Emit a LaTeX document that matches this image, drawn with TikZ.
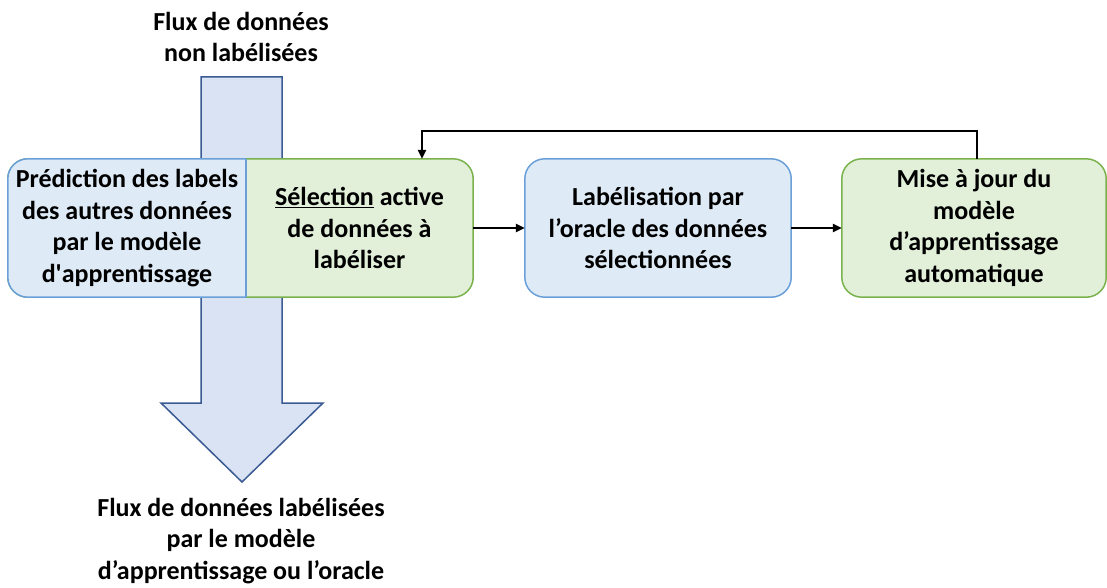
\documentclass[tikz,border=0pt]{standalone}
\usepackage{fontspec}
\setmainfont{Carlito}
\usetikzlibrary{arrows.meta,calc}
\definecolor{bfill}{HTML}{DEEBF7}
\definecolor{bdraw}{HTML}{6A9FD8}
\definecolor{gfill}{HTML}{E2F0D9}
\definecolor{gdraw}{HTML}{7AB24E}
\definecolor{afill}{HTML}{DAE3F3}
\definecolor{adraw}{HTML}{3A5A94}
\pgfdeclarelayer{bg}
\pgfsetlayers{bg,main}
\tikzset{
  txt/.style={font=\fontsize{26}{31.5}\selectfont\bfseries, align=center, inner sep=0pt},
  boxnode/.style={txt, minimum height=138pt},
  conn/.style={line width=2.2pt, -{Triangle[length=9pt,width=8pt]}},
}
\begin{document}
\begin{tikzpicture}[x=1pt,y=-1pt]
\useasboundingbox (0,0) rectangle (1107,588);
% nodes
\node[boxnode, minimum width=238pt] (pred) at (127,228) {Prédiction des labels\\des autres données\\par le modèle\\d\textquotesingle apprentissage};
\node[boxnode, minimum width=227pt] (sel) at (359.5,228) {\underline{Sélection} active\\de données à\\labéliser};
\node[boxnode, minimum width=266pt] (lab) at (658,228) {Labélisation par\\l’oracle des données\\sélectionnées};
\node[boxnode, minimum width=264pt] (maj) at (974,228) {Mise à jour du\\modèle\\d’apprentissage\\automatique};
\node[txt] (top) at (241,37) {Flux de données\\non labélisées};
\node[txt] (bot) at (241,541) {Flux de données labélisées\\par le modèle\\d’apprentissage ou l’oracle};
% background shapes
\begin{pgfonlayer}{bg}
  \draw[fill=afill, draw=adraw, line width=1.5pt, line join=miter]
    (201,77) -- (282,77) -- (282,403) -- (323,403) -- (242,482) -- (161,403) -- (201,403) -- cycle;
  \draw[fill=gfill, draw=gdraw, line width=1.5pt, rounded corners=20pt]
    (pred.north west) rectangle (sel.south east);
  \begin{scope}
    \clip ([shift={(-4pt,4pt)}]pred.north west) rectangle ([shift={(0pt,-4pt)}]pred.south east);
    \draw[fill=bfill, draw=bdraw, line width=1.5pt, rounded corners=20pt]
      (pred.north west) rectangle (sel.south east);
  \end{scope}
  \draw[draw=bdraw, line width=1.5pt] (pred.north east) -- (pred.south east);
  \draw[fill=bfill, draw=bdraw, line width=1.5pt, rounded corners=20pt]
    (lab.north west) rectangle (lab.south east);
  \draw[fill=gfill, draw=gdraw, line width=1.5pt, rounded corners=20pt]
    (maj.north west) rectangle (maj.south east);
\end{pgfonlayer}
% connectors
\draw[conn] (sel.east) -- (lab.west);
\draw[conn] (lab.east) -- (maj.west);
\draw[conn] ([xshift=3pt]maj.north) -- ++(0,-28) -| ([xshift=62.5pt]sel.north);
\end{tikzpicture}
\end{document}
